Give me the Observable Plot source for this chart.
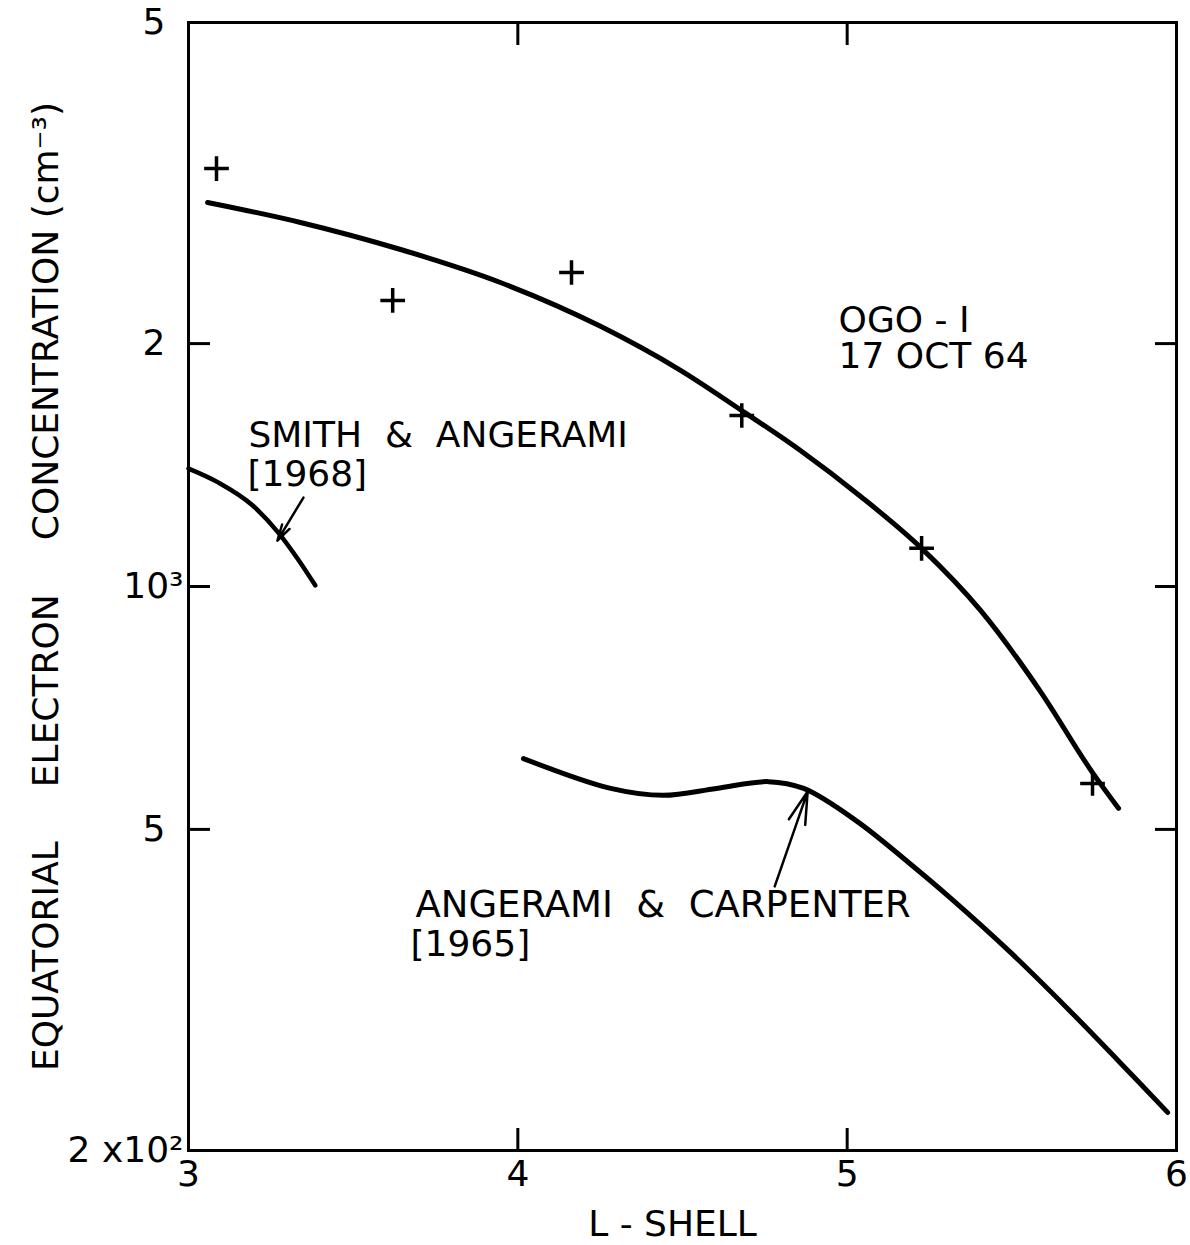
<!DOCTYPE html>
<html><head><meta charset="utf-8">
<script src="https://cdn.jsdelivr.net/npm/d3@7"></script>
<script src="https://cdn.jsdelivr.net/npm/@observablehq/plot@0.6"></script>
<style>body{margin:0;background:#fff;}</style>
</head><body><div id="chart"></div>
<script>
// OGO-I fitted curve (L-shell, electrons per cm^3)
const ogoCurveL = [3.058, 3.340, 3.644, 3.947, 4.251, 4.494, 4.679, 4.858, 5.041, 5.226, 5.405, 5.587, 5.745, 5.824];
const ogoCurveN = [2992, 2826, 2616, 2381, 2101, 1853, 1653, 1474, 1293, 1115, 934, 741, 588, 531];
// OGO-I measurements (crosses)
const ogoPointL = [3.085, 3.62, 4.163, 4.68, 5.226, 5.745];
const ogoPointN = [3296, 2262, 2450, 1629, 1115, 570];
// Smith & Angerami [1968]
const smithL = [3.0, 3.090, 3.195, 3.272, 3.335, 3.385];
const smithN = [1400, 1346, 1260, 1167, 1077, 1003];
// Angerami & Carpenter [1965]
const acL = [4.017, 4.282, 4.442, 4.603, 4.761, 4.868, 5.029, 5.189, 5.314, 5.496, 5.669, 5.821, 5.973];
const acN = [612, 562, 551, 562, 573, 562, 512, 454, 411, 352, 300, 259, 223];

// axis ticks
const xTickValues = [3, 4, 5, 6];
const xInnerTicks = [4, 5];
const yTickValues = [5000, 2000, 1000, 500, 200];
const yTickLabels = ["5\u2002", "2\u2002", "10\u00B3", "5\u2002", "2 x10\u00B2"];
const yInnerTicks = [2000, 1000, 500];
const xLabel = "L - SHELL";
const yLabel = "EQUATORIAL\u2003\u2002ELECTRON\u2003\u2002CONCENTRATION (cm\u207B\u00B3)";

// annotations (anchored in data coordinates)
const annoText = ["OGO - I", "17 OCT 64", "SMITH\u00A0\u00A0&\u00A0\u00A0ANGERAMI", "[1968]", "ANGERAMI\u00A0\u00A0&\u00A0\u00A0CARPENTER", "[1965]"];
const annoL = [4.974, 4.974, 3.182, 3.179, 3.689, 3.674];
const annoN = [2065, 1868, 1491, 1334, 389, 348];
const annoSize = [36, 36, 36, 36, 37, 36];
// annotation arrows: from -> to
const arrowFromL = [3.349, 4.780];
const arrowFromN = [1289, 425];
const arrowToL = [3.270, 4.880];
const arrowToN = [1140, 557];

const ogoCurve = ogoCurveL.map((L, i) => ({L, N: ogoCurveN[i]}));
const ogoPoints = ogoPointL.map((L, i) => ({L, N: ogoPointN[i]}));
const smith = smithL.map((L, i) => ({L, N: smithN[i]}));
const ac = acL.map((L, i) => ({L, N: acN[i]}));
const annos = annoText.map((t, i) => ({t, L: annoL[i], N: annoN[i], s: annoSize[i]}));
const arrows = arrowFromL.map((L, i) => ({L1: L, N1: arrowFromN[i], L2: arrowToL[i], N2: arrowToN[i]}));
const yLabelMap = new Map(yTickValues.map((v, i) => [v, yTickLabels[i]]));
const noText = () => "";

const chart = Plot.plot({
  width: 1190, height: 1245,
  marginLeft: 188, marginRight: 14, marginTop: 22, marginBottom: 95,
  style: {fontFamily: "DejaVu Sans", fontSize: "36px", color: "black", background: "white"},
  x: {domain: [3, 6]},
  y: {type: "log", domain: [200, 5000]},
  marks: [
    Plot.frame({stroke: "black", strokeWidth: 3}),
    Plot.axisX(xTickValues, {anchor: "bottom", tickSize: 0, tickPadding: 10, fontSize: 36, tickFormat: d => String(d), label: null}),
    Plot.axisX(xInnerTicks, {anchor: "bottom", tickSize: -22, strokeWidth: 3, tickFormat: noText, label: null}),
    Plot.axisX(xInnerTicks, {anchor: "top", tickSize: -22, strokeWidth: 3, tickFormat: noText, label: null}),
    Plot.axisY(yTickValues, {anchor: "left", tickSize: 0, tickPadding: 5, fontSize: 36, tickFormat: d => yLabelMap.get(d), label: null}),
    Plot.axisY(yInnerTicks, {anchor: "left", tickSize: -22, strokeWidth: 3, tickFormat: noText, label: null}),
    Plot.axisY(yInnerTicks, {anchor: "right", tickSize: -22, strokeWidth: 3, tickFormat: noText, label: null}),
    Plot.text([xLabel], {frameAnchor: "bottom", dy: 74, dx: -10, lineAnchor: "middle", textAnchor: "middle", fontSize: 36}),
    Plot.text([yLabel], {frameAnchor: "left", rotate: -90, dx: -142, lineAnchor: "middle", textAnchor: "middle", fontSize: 36}),
    Plot.line(ogoCurve, {x: "L", y: "N", curve: "monotone-x", stroke: "black", strokeWidth: 5}),
    Plot.line(smith, {x: "L", y: "N", curve: "monotone-x", stroke: "black", strokeWidth: 4.5}),
    Plot.line(ac, {x: "L", y: "N", curve: "catmull-rom", stroke: "black", strokeWidth: 5}),
    Plot.dot(ogoPoints, {x: "L", y: "N", symbol: "plus", r: 8, stroke: "black", strokeWidth: 3.5}),
    Plot.arrow(arrows, {x1: "L1", y1: "N1", x2: "L2", y2: "N2", stroke: "black", strokeWidth: 2.5, headLength: 22, headAngle: 30}),
    Plot.text(annos, {x: "L", y: "N", text: "t", fontSize: "s", textAnchor: "start", lineAnchor: "bottom"})
  ]
});
document.getElementById("chart").appendChild(chart);
</script>
</body></html>
